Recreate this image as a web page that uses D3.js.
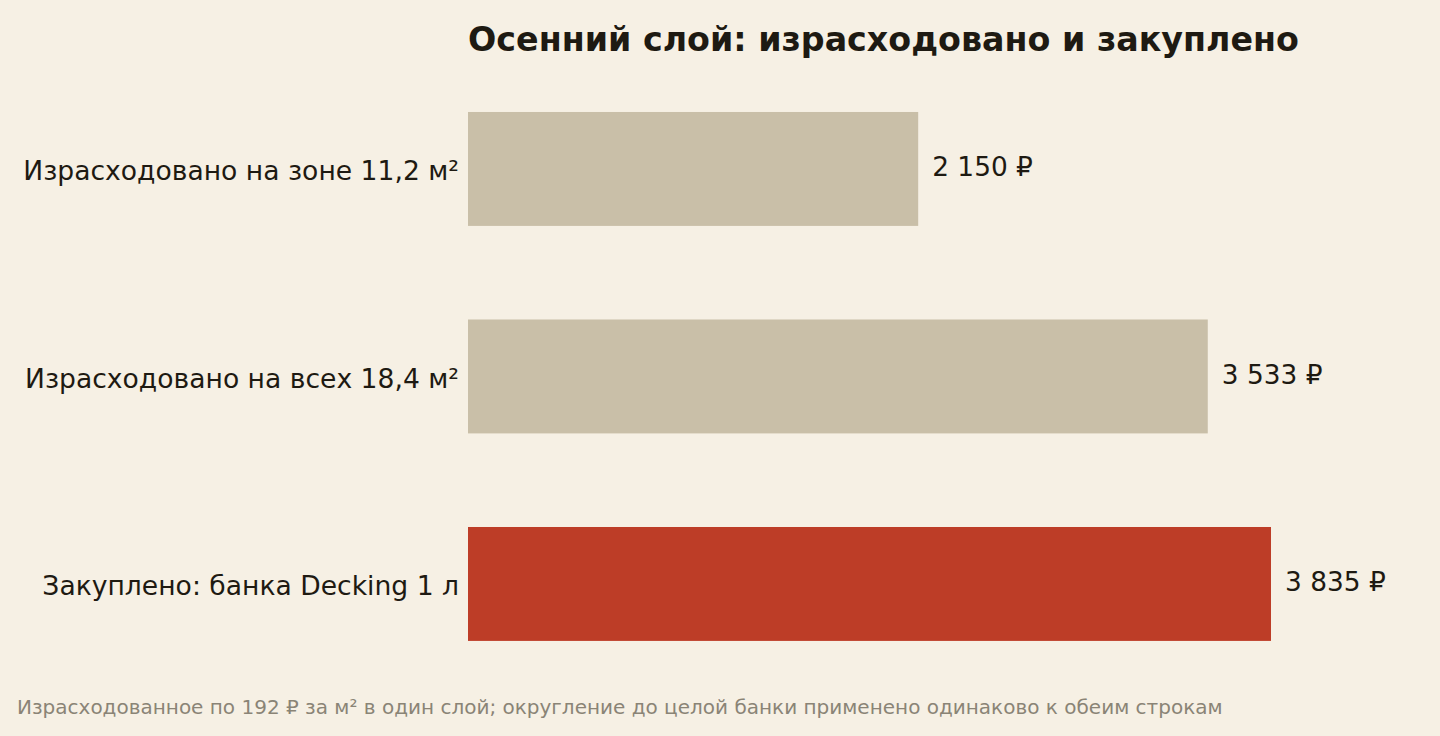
<!DOCTYPE html>
<html>
<head>
<meta charset="utf-8">
<script src="https://cdn.jsdelivr.net/npm/d3@7"></script>
<style>
  html, body { margin: 0; padding: 0; background: #f6f0e4; }
  svg { display: block; font-family: "DejaVu Sans", sans-serif; }
</style>
</head>
<body>
<svg id="chart" width="1440" height="736"></svg>
<script>
// data
var categories = ["Израсходовано на зоне 11,2 м²", "Израсходовано на всех 18,4 м²", "Закуплено: банка Decking 1 л"];
var values = [2150, 3533, 3835];
var valueLabels = ["2 150 ₽", "3 533 ₽", "3 835 ₽"];
var highlight = [false, false, true];

var titleText = "Осенний слой: израсходовано и закуплено";
var footText = "Израсходованное по 192 ₽ за м² в один слой; округление до целой банки применено одинаково к обеим строкам";

var W = 1440, H = 736;
var left = 468;

var svg = d3.select("#chart");
svg.append("rect").attr("width", W).attr("height", H).attr("fill", "#f6f0e4");

var x = d3.scaleLinear().domain([0, 3835]).range([left, 1271]);
var y = d3.scaleBand().domain(categories).range([18.4, 734.5]).padding(0.451);

svg.append("text")
	.attr("x", left).attr("y", 51)
	.attr("font-size", 33.3).attr("font-weight", "bold")
	.attr("fill", "#1e1a12")
	.text(titleText);

var rows = svg.selectAll("g.row").data(categories).enter()
	.append("g").attr("class", "row");

rows.append("rect")
	.attr("x", x(0))
	.attr("y", function(d) { return y(d); })
	.attr("width", function(d, i) { return x(values[i]) - x(0); })
	.attr("height", y.bandwidth())
	.attr("fill", function(d, i) { return highlight[i] ? "#bd3d27" : "#c9bfa8"; });

rows.append("text")
	.attr("x", left - 9)
	.attr("y", function(d) { return y(d) + y.bandwidth() / 2 + 2; })
	.attr("dy", "0.35em")
	.attr("text-anchor", "end")
	.attr("font-size", 26.6)
	.attr("fill", "#1e1a12")
	.text(function(d) { return d; });

rows.append("text")
	.attr("x", function(d, i) { return x(values[i]) + 14; })
	.attr("y", function(d) { return y(d) + y.bandwidth() / 2 - 2; })
	.attr("dy", "0.35em")
	.attr("font-size", 26.4)
	.attr("fill", "#1e1a12")
	.text(function(d, i) { return valueLabels[i]; });

svg.append("text")
	.attr("x", 17).attr("y", 714)
	.attr("font-size", 20)
	.attr("fill", "#8a8476")
	.text(footText);
</script>
</body>
</html>
